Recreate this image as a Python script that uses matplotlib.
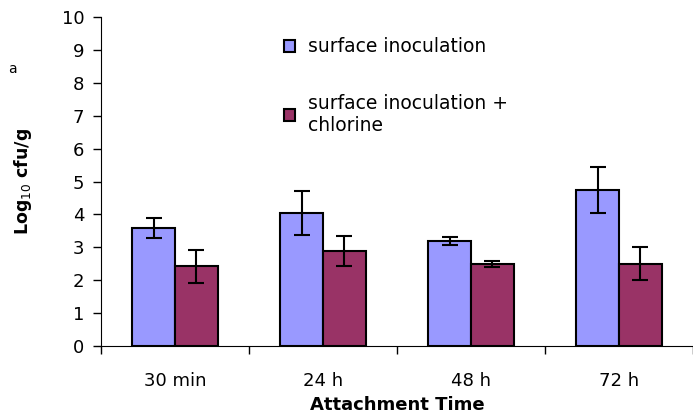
import numpy as np
import matplotlib.pyplot as plt
import matplotlib as mpl
mpl.rcParams['font.family'] = ['DejaVu Sans']

categories = ['30 min', '24 h', '48 h', '72 h']
surface = [3.58, 4.04, 3.18, 4.74]
surface_err = [0.30, 0.66, 0.12, 0.70]
chlorine = [2.42, 2.88, 2.50, 2.50]
chlorine_err = [0.50, 0.45, 0.09, 0.50]
labels = ['surface inoculation', 'surface inoculation +\nchlorine']

fig = plt.figure(figsize=(6.93, 4.18), dpi=100)
ax = fig.add_axes([0.1457, 0.1722, 0.8543, 0.7871])

x = np.arange(len(categories))
w = 0.29
err_kw = dict(ecolor='black', elinewidth=1.5, capsize=5.5, capthick=1.5)
ax.bar(x - w / 2, surface, w, yerr=surface_err, color='#9999FF',
       edgecolor='black', linewidth=1.5, label=labels[0], error_kw=err_kw)
ax.bar(x + w / 2, chlorine, w, yerr=chlorine_err, color='#993366',
       edgecolor='black', linewidth=1.5, label=labels[1], error_kw=err_kw)

ax.set_ylim(0, 10)
ax.set_yticks(range(0, 11))
ax.set_xlim(-0.5, 3.447)
ax.set_xticks(x)
ax.set_xticklabels(categories)
ax.set_xticks(np.arange(-0.5, 4, 1), minor=True)
ax.tick_params(axis='x', which='major', length=0, pad=19, labelsize=13)
ax.tick_params(axis='x', which='minor', length=6, width=1, direction='out')
ax.tick_params(axis='y', length=6, width=1, labelsize=13, pad=6)
for s in ['top', 'right']:
    ax.spines[s].set_visible(False)

ax.set_ylabel('Log$_{10}$ cfu/g', fontsize=12.5, fontweight='bold', labelpad=20)
ax.set_xlabel('Attachment Time', fontsize=13, fontweight='bold', labelpad=4)

leg = ax.legend(loc='upper left', bbox_to_anchor=(0.28, 0.99), frameon=False,
                fontsize=13.5, labelspacing=2.0, handlelength=0.6, handleheight=0.6,
                handletextpad=0.7)
fig.text(0.012, 0.825, 'a', fontsize=10)

fig.savefig('out.png', dpi=100)
